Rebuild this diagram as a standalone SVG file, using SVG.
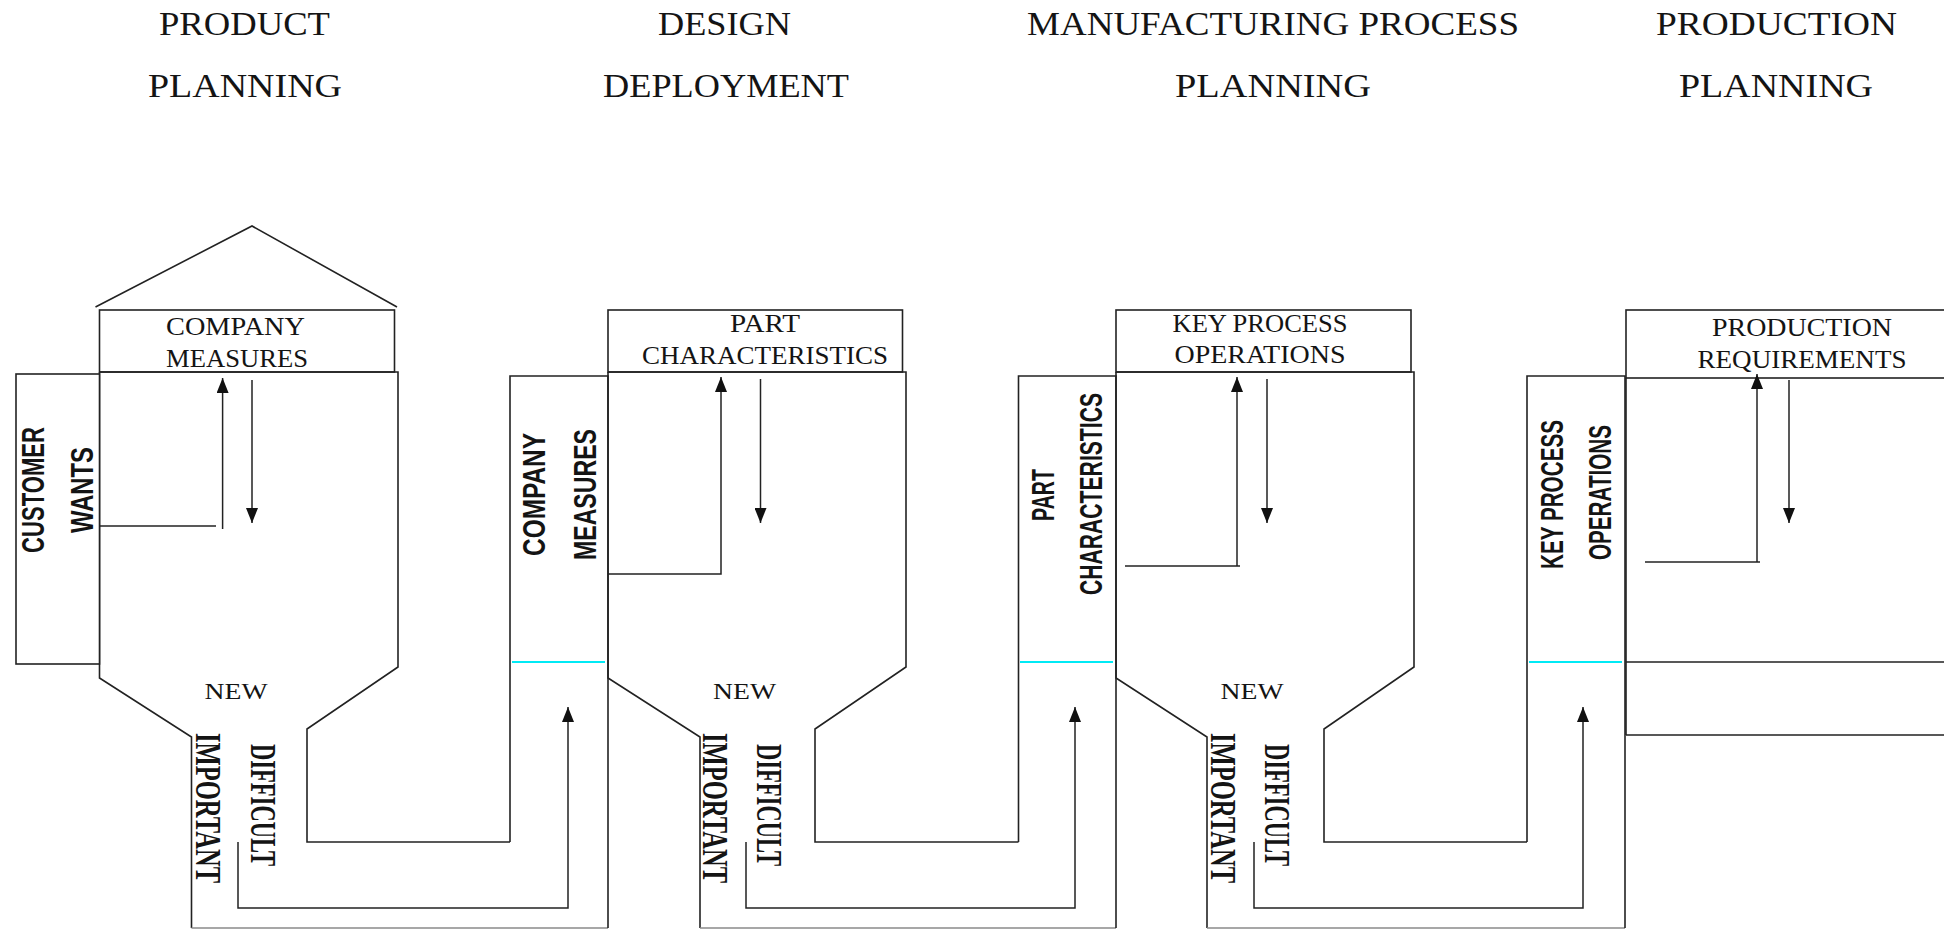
<svg xmlns="http://www.w3.org/2000/svg" width="1944" height="929" viewBox="0 0 1944 929">
  <style>
    .ln { fill: none; stroke: #222; stroke-width: 1.6; }
    .bx { fill: #fff; stroke: #222; stroke-width: 1.6; }
    .cy { stroke: #00eaf5; stroke-width: 2; }
    .bot { stroke: #8a8a8a; stroke-width: 1.6; }
    .arr { fill: none; stroke: #222; stroke-width: 1.5; }
    .head { marker-end: url(#ah); }
    text { font-family: "Liberation Serif", "Times New Roman", serif; fill: #141414; text-anchor: middle; }
    .ttl { font-size: 33px; }
    .hd { font-size: 26px; }
    .nw { font-size: 24px; }
    .vs { font-family: "Liberation Sans", Arial, sans-serif; font-size: 32px; font-weight: bold; }
    .vr { font-size: 36px; font-weight: bold; }
  </style>
  <defs>
    <marker id="ah" viewBox="0 0 15 12" refX="15" refY="6" markerWidth="15" markerHeight="12" markerUnits="userSpaceOnUse" orient="auto">
      <path d="M0,0 L15,6 L0,12 Z" fill="#111"/>
    </marker>
  </defs>

  <rect x="0" y="0" width="1944" height="929" fill="#fff"/>

  <!-- stage titles -->
  <g id="titles">
    <text class="ttl" x="244.5" y="35" textLength="171" lengthAdjust="spacingAndGlyphs">PRODUCT</text>
    <text class="ttl" x="245" y="97" textLength="194" lengthAdjust="spacingAndGlyphs">PLANNING</text>
    <text class="ttl" x="724.5" y="35" textLength="133" lengthAdjust="spacingAndGlyphs">DESIGN</text>
    <text class="ttl" x="726" y="97" textLength="246" lengthAdjust="spacingAndGlyphs">DEPLOYMENT</text>
    <text class="ttl" x="1273" y="35" textLength="492" lengthAdjust="spacingAndGlyphs">MANUFACTURING PROCESS</text>
    <text class="ttl" x="1273" y="97" textLength="196" lengthAdjust="spacingAndGlyphs">PLANNING</text>
    <text class="ttl" x="1776.5" y="35" textLength="241" lengthAdjust="spacingAndGlyphs">PRODUCTION</text>
    <text class="ttl" x="1776" y="97" textLength="194" lengthAdjust="spacingAndGlyphs">PLANNING</text>
  </g>

  <!-- house 1: product planning -->
  <g id="product-planning">
    <polyline class="ln" points="95.5,307 252,226 397,307"/>
    <rect class="bx" x="99.5" y="310" width="295" height="62"/>
    <text class="hd" x="235.5" y="335" textLength="139" lengthAdjust="spacingAndGlyphs">COMPANY</text>
    <text class="hd" x="237" y="367" textLength="142" lengthAdjust="spacingAndGlyphs">MEASURES</text>
    <path class="ln" d="M99.5,372 H398 V667 L307,729 V842 H510 M99.5,372 V678 L191.5,737 V928"/>
    <line class="bot" x1="191.5" y1="928" x2="608" y2="928"/>
    <rect class="bx" x="16" y="374" width="83.5" height="290"/>
    <text class="vs" transform="translate(44,490) rotate(-90)" textLength="126" lengthAdjust="spacingAndGlyphs">CUSTOMER</text>
    <text class="vs" transform="translate(93,490) rotate(-90)" textLength="86" lengthAdjust="spacingAndGlyphs">WANTS</text>
    <text class="nw" x="236" y="699" textLength="63" lengthAdjust="spacingAndGlyphs">NEW</text>
    <text class="vr" transform="translate(196,808) rotate(90)" textLength="150" lengthAdjust="spacingAndGlyphs">IMPORTANT</text>
    <text class="vr" transform="translate(251,805) rotate(90)" textLength="122" lengthAdjust="spacingAndGlyphs">DIFFICULT</text>
  </g>

  <!-- column: company measures -->
  <g id="company-measures-col">
    <path class="ln" d="M510,842 V376 H608 V928"/>
    <line class="cy" x1="512" y1="662" x2="605" y2="662"/>
    <text class="vs" transform="translate(545,494.5) rotate(-90)" textLength="123" lengthAdjust="spacingAndGlyphs">COMPANY</text>
    <text class="vs" transform="translate(596,494.5) rotate(-90)" textLength="131" lengthAdjust="spacingAndGlyphs">MEASURES</text>
  </g>

  <!-- house 2: design deployment -->
  <g id="design-deployment">
    <rect class="bx" x="608" y="310" width="294.5" height="62"/>
    <text class="hd" x="765" y="332" textLength="70" lengthAdjust="spacingAndGlyphs">PART</text>
    <text class="hd" x="765" y="364" textLength="246" lengthAdjust="spacingAndGlyphs">CHARACTERISTICS</text>
    <path class="ln" d="M608,372 H906 V667 L815,729 V842 H1018.5 M608,372 V678 L700,737 V928"/>
    <line class="bot" x1="700" y1="928" x2="1116" y2="928"/>
    <text class="nw" x="744.5" y="699" textLength="63" lengthAdjust="spacingAndGlyphs">NEW</text>
    <text class="vr" transform="translate(703,808) rotate(90)" textLength="150" lengthAdjust="spacingAndGlyphs">IMPORTANT</text>
    <text class="vr" transform="translate(757,805) rotate(90)" textLength="122" lengthAdjust="spacingAndGlyphs">DIFFICULT</text>
  </g>

  <!-- column: part characteristics -->
  <g id="part-characteristics-col">
    <path class="ln" d="M1018.5,842 V376 H1116 V928"/>
    <line class="cy" x1="1020" y1="662" x2="1113" y2="662"/>
    <text class="vs" transform="translate(1054,495) rotate(-90)" textLength="52" lengthAdjust="spacingAndGlyphs">PART</text>
    <text class="vs" transform="translate(1102,494) rotate(-90)" textLength="202" lengthAdjust="spacingAndGlyphs">CHARACTERISTICS</text>
  </g>

  <!-- house 3: manufacturing process planning -->
  <g id="process-planning">
    <rect class="bx" x="1116" y="310" width="295" height="62"/>
    <text class="hd" x="1260" y="332" textLength="175" lengthAdjust="spacingAndGlyphs">KEY PROCESS</text>
    <text class="hd" x="1260" y="363" textLength="171" lengthAdjust="spacingAndGlyphs">OPERATIONS</text>
    <path class="ln" d="M1116,372 H1414 V667 L1324,729 V842 H1527 M1116,372 V678 L1207,737 V928"/>
    <line class="bot" x1="1207" y1="928" x2="1625" y2="928"/>
    <text class="nw" x="1252" y="699" textLength="63" lengthAdjust="spacingAndGlyphs">NEW</text>
    <text class="vr" transform="translate(1211,808) rotate(90)" textLength="150" lengthAdjust="spacingAndGlyphs">IMPORTANT</text>
    <text class="vr" transform="translate(1265,805) rotate(90)" textLength="122" lengthAdjust="spacingAndGlyphs">DIFFICULT</text>
  </g>

  <!-- column: key process operations -->
  <g id="key-process-col">
    <path class="ln" d="M1527,842 V376 H1625 V928"/>
    <line class="cy" x1="1529" y1="662" x2="1622" y2="662"/>
    <text class="vs" transform="translate(1563,494.5) rotate(-90)" textLength="149" lengthAdjust="spacingAndGlyphs">KEY PROCESS</text>
    <text class="vs" transform="translate(1611,492.5) rotate(-90)" textLength="135" lengthAdjust="spacingAndGlyphs">OPERATIONS</text>
  </g>

  <!-- house 4: production planning -->
  <g id="production-planning">
    <rect class="bx" x="1626" y="310" width="400" height="68"/>
    <text class="hd" x="1802" y="336" textLength="180" lengthAdjust="spacingAndGlyphs">PRODUCTION</text>
    <text class="hd" x="1802" y="368" textLength="209" lengthAdjust="spacingAndGlyphs">REQUIREMENTS</text>
    <path class="ln" d="M1626,378 V735 M1626,662 H1950 M1626,735 H1950"/>
  </g>

  <!-- flow arrows -->
  <g id="connectors">
    <path class="arr" d="M99.5,526 H216"/>
    <path class="arr head" d="M222.6,529 V378"/>
    <path class="arr head" d="M252,380 V523"/>
    <path class="arr head" d="M238,842 V908 H568 V707"/>

    <path class="arr head" d="M608,574 H721 V377"/>
    <path class="arr head" d="M760.5,379 V523"/>
    <path class="arr head" d="M746,842 V908 H1075 V707"/>

    <path class="arr" d="M1125,566 H1240"/>
    <path class="arr head" d="M1237,566 V377"/>
    <path class="arr head" d="M1267,379 V523"/>
    <path class="arr head" d="M1254,842 V908 H1583 V707"/>

    <path class="arr" d="M1645,562 H1760"/>
    <path class="arr head" d="M1757,562 V374"/>
    <path class="arr head" d="M1789,380 V523"/>
  </g>
</svg>
